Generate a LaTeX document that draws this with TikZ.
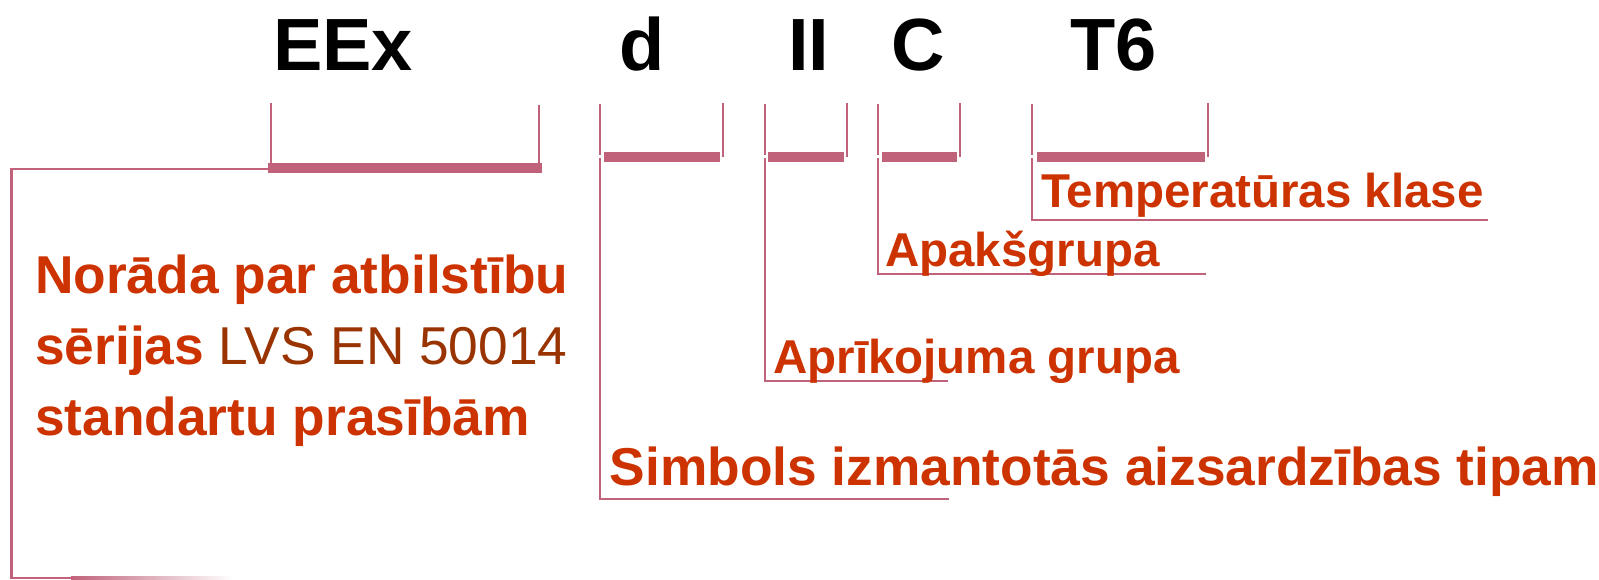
\documentclass[tikz,border=0pt]{standalone}
\usepackage{fontspec}
\setmainfont{Liberation Sans}
\definecolor{lnk}{RGB}{192,98,122}
\definecolor{lbl}{RGB}{204,51,0}
\definecolor{std}{RGB}{153,51,0}
\begin{document}
\begin{tikzpicture}[x=1pt,y=-1pt,
  code/.style={anchor=base west, inner sep=0pt, font=\fontsize{74}{80}\selectfont\bfseries},
  lbltext/.style={anchor=base west, inner sep=0pt, text=lbl, font=\fontsize{47.5}{55}\selectfont\bfseries},
  bigtext/.style={anchor=base west, inner sep=0pt, text=lbl, font=\fontsize{53.3}{60}\selectfont\bfseries},
  thin/.style={draw=lnk, line width=2.7pt},
  bar/.style={draw=lnk, line width=10pt}]
\fill[white] (0,0) rectangle (1599,580);
\useasboundingbox (0,0) rectangle (1599,580);

% marking codes
\node[code] (eex) at (273,71) {EEx};
\node[code] (d)   at (619,71) {d};
\node[code] (ii)  at (788,71) {II};
\node[code] (c)   at (891,71) {C};
\node[code] (t6)  at (1070.5,71) {T6};

% brackets under the codes
% EEx
\draw[thin] (271,103) -- (271,163);
\draw[thin] (539,105) -- (539,163);
\draw[bar]  (268,168.5) -- (542,168.5);
% d
\draw[thin] (600,104) -- (600,155);
\draw[thin] (600,158) -- (600,499) -- (949,499);
\draw[thin] (723,103) -- (723,157);
\draw[bar]  (604,157) -- (720,157);
% II
\draw[thin] (765,104) -- (765,155);
\draw[thin] (765,158) -- (765,381) -- (948,381);
\draw[thin] (847,103) -- (847,157);
\draw[bar]  (768,157) -- (844,157);
% C
\draw[thin] (878,104) -- (878,155);
\draw[thin] (878,158) -- (878,274) -- (1206,274);
\draw[thin] (960,103) -- (960,157);
\draw[bar]  (882,157) -- (957,157);
% T6
\draw[thin] (1032,104) -- (1032,155);
\draw[thin] (1032,158) -- (1032,220) -- (1488,220);
\draw[thin] (1208,103) -- (1208,157);
\draw[bar]  (1037,157) -- (1205,157);

% EEx leader running round the left side
\draw[thin] (268,169) -- (11.7,169) -- (11.7,578) -- (72,578);
\shade[left color=lnk, right color=white] (71,576.6) rectangle (233,579.4);

% descriptions
\node[bigtext] (n1) at (35,293.6) {Norāda par atbilstību};
\node[bigtext] (n2) at (35,364) {sērijas {\mdseries\color{std}LVS EN 50014}};
\node[bigtext] (n3) at (35,435) {standartu prasībām};
\node[bigtext] (ld) at (609.5,485) {Simbols izmantotās aizsardzības tipam};
\node[lbltext] (lii) at (773,373) {Aprīkojuma grupa};
\node[lbltext] (lc) at (885,267) {Apakšgrupa};
\node[lbltext] (lt) at (1041,207.7) {Temperatūras klase};
\end{tikzpicture}
\end{document}
